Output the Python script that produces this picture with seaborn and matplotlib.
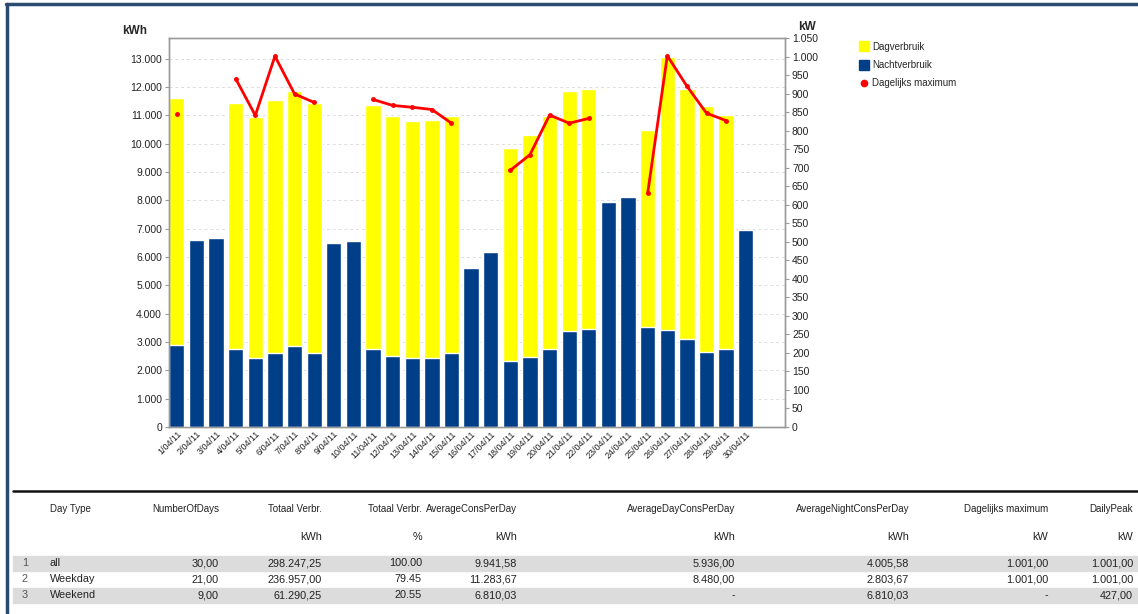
import numpy as np
import pandas as pd
import matplotlib
matplotlib.use("Agg")
import matplotlib.pyplot as plt
from matplotlib.lines import Line2D
from matplotlib.patches import Rectangle
from matplotlib.ticker import FuncFormatter
import seaborn as sns

# Chart data
days = [f"{d}/04/11" for d in range(1, 31)]
night_kwh = [2900, 6600, 6680, 2770, 2420, 2600, 2860, 2600, 6480, 6560,
             2740, 2520, 2440, 2420, 2600, 5620, 6160, 2340, 2480, 2750,
             3400, 3450, 7940, 8130, 3520, 3440, 3090, 2660, 2740, 6970]
day_kwh = [8720, 0, 0, 8660, 8520, 8950, 9000, 8830, 0, 0,
           8640, 8450, 8350, 8410, 8370, 0, 0, 7500, 7810, 8220,
           8470, 8480, 0, 0, 6960, 9620, 8830, 8660, 8260, 0]
max_kw = [846, np.nan, np.nan, 940, 841, 1001, 899, 876, np.nan, np.nan,
          884, 868, 863, 857, 820, np.nan, np.nan, 693, 735, 842,
          820, 833, np.nan, np.nan, 631, 1002, 920, 847, 827, np.nan]

# Summary table data
day_type = ["all", "Weekday", "Weekend"]
n_days = [30.00, 21.00, 9.00]
tot_kwh = [298247.25, 236957.00, 61290.25]
tot_pct = [100.00, 79.45, 20.55]
avg_cons = [9941.58, 11283.67, 6810.03]
avg_day = [5936.00, 8480.00, None]
avg_night = [4005.58, 2803.67, 6810.03]
dag_max = [1001.00, 1001.00, None]
daily_peak = [1001.00, 1001.00, 427.00]

df = pd.DataFrame({"day": days, "night": night_kwh, "dayuse": day_kwh})
df["total"] = df["night"] + df["dayuse"]

sns.set_style("white")
plt.rcParams["font.family"] = ["Liberation Sans", "DejaVu Sans"]

YELLOW = "#FFFF00"
BLUE = "#003F87"
RED = "#FF0000"
GREY = "#9a9a9a"

fig = plt.figure(figsize=(11.38, 6.14), dpi=100)
ax = fig.add_axes([169 / 1138, 1 - 427 / 614, (785 - 169) / 1138, (427 - 38) / 614])

sns.barplot(data=df, x="day", y="total", color=YELLOW, width=0.78,
            saturation=1, ax=ax, zorder=2)
sns.barplot(data=df, x="day", y="night", color=BLUE, width=0.78,
            saturation=1, ax=ax, zorder=3)

ax.set_xlim(-0.4, 31.0)
ax.set_ylim(0, 13731)
ax.set_yticks(range(0, 13001, 1000))
ax.yaxis.set_major_formatter(FuncFormatter(lambda v, p: f"{int(v):,}".replace(",", ".")))
ax.grid(axis="y", color="#dddddd", linestyle=(0, (3, 3)), linewidth=0.7, zorder=0)
ax.set_xlabel("")
ax.set_ylabel("")
ax.tick_params(axis="y", labelsize=7.5, length=3, color=GREY, pad=2, labelcolor="#222222")
ax.tick_params(axis="x", labelsize=6.5, length=0, pad=2, labelcolor="#222222")
plt.setp(ax.get_xticklabels(), rotation=45, ha="right", rotation_mode="anchor")
for s in ax.spines.values():
    s.set_color(GREY)
    s.set_linewidth(1)

ax2 = ax.twinx()
ax2.plot(range(len(days)), max_kw, color=RED, linewidth=2, marker="o",
         markersize=2.5, zorder=4)
ax2.set_ylim(0, 1050)
ax2.set_yticks(range(0, 1051, 50))
ax2.yaxis.set_major_formatter(FuncFormatter(lambda v, p: f"{int(v):,}".replace(",", ".")))
ax2.tick_params(axis="y", labelsize=7.5, length=3, color=GREY, pad=2, labelcolor="#222222")
for s in ax2.spines.values():
    s.set_color(GREY)
    s.set_linewidth(1)

fig.text(122 / 1138, 1 - 31 / 614, "kWh", fontsize=8.5, fontweight="bold", va="center")
fig.text(798 / 1138, 1 - 27 / 614, "kW", fontsize=8.5, fontweight="bold", va="center")

handles = [
    Line2D([], [], linestyle="none", marker="s", markersize=6.5, color=YELLOW),
    Line2D([], [], linestyle="none", marker="s", markersize=6.5, color=BLUE),
    Line2D([], [], linestyle="none", marker="o", markersize=4.5, color=RED),
]
fig.legend(handles, ["Dagverbruik", "Nachtverbruik", "Dagelijks maximum"],
           loc="upper left", bbox_to_anchor=(855 / 1138, 1 - 37 / 614),
           frameon=False, fontsize=7, handlelength=0.8, handletextpad=0.45,
           labelspacing=0.85, borderpad=0)

# Frame lines
fig.add_artist(Line2D([6 / 1138, 1], [1 - 4 / 614] * 2, color="#2b4a70", linewidth=2.5))
fig.add_artist(Line2D([7 / 1138] * 2, [0, 1 - 4 / 614], color="#2b4a70", linewidth=2.5))
fig.add_artist(Line2D([13 / 1138, 1], [1 - 490.5 / 614] * 2, color="#111111", linewidth=1.8))


# Table
def nl(v):
    if v is None:
        return "-"
    return f"{v:,.2f}".replace(",", "#").replace(".", ",").replace("#", ".")


row_y = [563, 579, 595]
for y in (row_y[0], row_y[2]):
    fig.add_artist(Rectangle((13 / 1138, 1 - (y + 7.5) / 614), 1, 15 / 614,
                             transform=fig.transFigure, color="#dcdcdc", zorder=0))

headers = ["NumberOfDays", "Totaal Verbr.", "Totaal Verbr.", "AverageConsPerDay",
           "AverageDayConsPerDay", "AverageNightConsPerDay", "Dagelijks maximum", "DailyPeak"]
units = ["", "kWh", "%", "kWh", "kWh", "kWh", "kW", "kW"]
col_right = [219, 322, 422, 517, 735, 909, 1048, 1133]
cols = [
    [nl(v) for v in n_days],
    [nl(v) for v in tot_kwh],
    [f"{v:.2f}" for v in tot_pct],
    [nl(v) for v in avg_cons],
    [nl(v) for v in avg_day],
    [nl(v) for v in avg_night],
    [nl(v) for v in dag_max],
    [nl(v) for v in daily_peak],
]

tfs = 7.8
hfs = 7.0
tc = "#222222"
fig.text(50 / 1138, 1 - 509 / 614, "Day Type", fontsize=hfs, color=tc, va="center")
for h, u, xr, vals in zip(headers, units, col_right, cols):
    fig.text(xr / 1138, 1 - 509 / 614, h, fontsize=hfs, color=tc, va="center", ha="right")
    if u:
        fig.text(xr / 1138, 1 - 537 / 614, u, fontsize=tfs, color=tc, va="center", ha="right")
    for y, v in zip(row_y, vals):
        fig.text(xr / 1138, 1 - y / 614, v, fontsize=tfs, color=tc, va="center", ha="right")
for i, (y, name) in enumerate(zip(row_y, day_type)):
    fig.text(22 / 1138, 1 - y / 614, str(i + 1), fontsize=tfs, color="#555555", va="center")
    fig.text(50 / 1138, 1 - y / 614, name, fontsize=tfs, color=tc, va="center")

fig.savefig("out.png", dpi=100)
plt.close(fig)
